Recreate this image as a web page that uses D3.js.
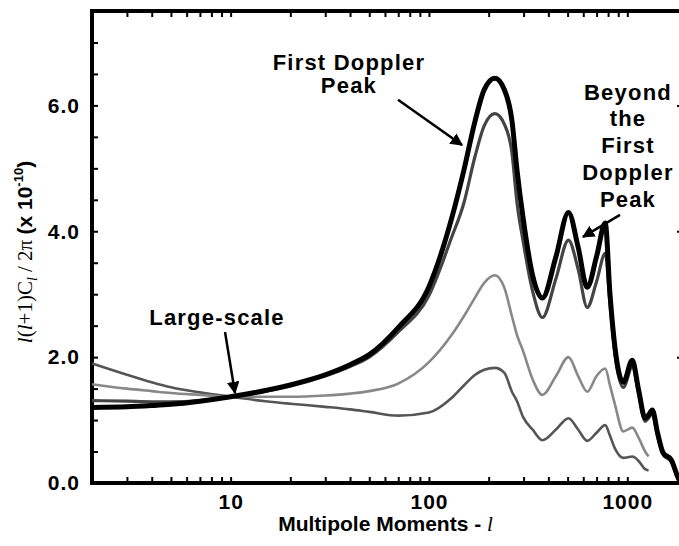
<!DOCTYPE html>
<html>
<head>
<meta charset="utf-8">
<script src="https://cdn.jsdelivr.net/npm/d3@7/dist/d3.min.js"></script>
<style>
  body { margin: 0; background: #fff; overflow: hidden; }
  svg { display: block; }
  .tick line { stroke: #000; stroke-width: 2; }
  .tick text { font-family: "Liberation Sans", Arial, sans-serif; font-weight: bold; font-size: 21px; letter-spacing: 1px; fill: #000; }
  .note { font-family: "Liberation Sans", Arial, sans-serif; font-weight: bold; font-size: 22px; letter-spacing: 1.2px; fill: #000; }
</style>
</head>
<body>
<script>
// multipole moments l (shared grid for all curves)
var multipoles = [2, 3, 4, 5, 7, 10, 15, 20, 30, 40, 50, 70, 100, 130, 150, 171, 190, 215, 240, 262, 278, 298, 333, 373, 437, 505, 565, 628, 700, 774, 818, 866, 955, 1060, 1140, 1230, 1280, 1337, 1420, 1515, 1665, 1828, 1900];

// l(l+1)Cl/2pi (x 1e-10); null = curve not drawn there
var curveA = [1.20, 1.21, 1.23, 1.25, 1.30, 1.37, 1.47, 1.56, 1.72, 1.88, 2.04, 2.47, 3.12, 4.20, 4.97, 5.76, 6.25, 6.43, 6.25, 5.76, 4.97, 4.22, 3.30, 2.94, 3.60, 4.30, 3.75, 3.11, 3.60, 4.13, 3.00, 2.16, 1.60, 1.95, 1.48, 1.03, 1.08, 1.16, 0.80, 0.48, 0.37, 0.05, 0.0];
var curveB = [1.31, 1.30, 1.29, 1.29, 1.31, 1.37, 1.46, 1.54, 1.70, 1.85, 2.00, 2.40, 2.98, 3.90, 4.45, 5.20, 5.68, 5.87, 5.70, 5.25, 4.45, 3.85, 3.05, 2.63, 3.25, 3.86, 3.40, 2.79, 3.20, 3.65, 2.85, 2.05, 1.52, 1.85, 1.42, 0.98, 1.03, 1.10, 0.75, 0.45, 0.34, 0.03, 0.0];
var curveC = [1.57, 1.50, 1.46, 1.43, 1.40, 1.37, 1.37, 1.37, 1.39, 1.42, 1.46, 1.58, 1.92, 2.35, 2.65, 2.95, 3.18, 3.30, 3.10, 2.65, 2.35, 2.10, 1.65, 1.40, 1.70, 2.00, 1.70, 1.45, 1.70, 1.82, 1.55, 1.25, 0.82, 0.88, 0.72, 0.50, 0.42, null, null, null, null, null, null];
var curveD = [1.90, 1.72, 1.60, 1.52, 1.44, 1.37, 1.30, 1.26, 1.21, 1.17, 1.13, 1.07, 1.12, 1.35, 1.55, 1.72, 1.80, 1.83, 1.75, 1.45, 1.30, 1.05, 0.85, 0.68, 0.85, 1.03, 0.85, 0.67, 0.80, 0.92, 0.75, 0.55, 0.40, 0.42, 0.35, 0.22, 0.20, null, null, null, null, null, null];

// tick labels
var xLabels = [10, 100, 1000];
var yLabels = [0, 2, 4, 6];

var svgWidth = 679;
var svgHeight = 546;

var margin = {
  top: 11,
  right: -8,
  bottom: 63,
  left: 92
};

var width = svgWidth - margin.left - margin.right;
var height = svgHeight - margin.top - margin.bottom;

var svg = d3.select("body")
  .append("svg")
  .attr("width", svgWidth)
  .attr("height", svgHeight);

var chartGroup = svg.append("g")
  .attr("transform", `translate(${margin.left}, ${margin.top})`);

var x = d3.scaleLog()
  .domain([2, 2000])
  .range([0, width]);

var y = d3.scaleLinear()
  .domain([0, 7.5])
  .range([height, 0]);

// minor ticks 2..9 in each decade
var xTicks = [];
[1, 10, 100, 1000].forEach(function(dec) {
  d3.range(1, 10).forEach(function(k) {
    var v = k * dec;
    if (v > 2 && v < 2000) xTicks.push(v);
  });
});
var yTicks = d3.range(0.5, 7.5, 0.5).concat([0]);

var bottomAxis = d3.axisBottom(x)
  .tickValues(xTicks)
  .tickSize(-6)
  .tickPadding(11)
  .tickFormat(d => xLabels.includes(d) ? d : "");

var topAxis = d3.axisTop(x)
  .tickValues(xTicks)
  .tickSize(-6)
  .tickFormat("");

var leftAxis = d3.axisLeft(y)
  .tickValues(yTicks)
  .tickSize(-6)
  .tickPadding(12)
  .tickFormat(d => yLabels.includes(d) ? d3.format(".1f")(d) : "");

var rightAxis = d3.axisRight(y)
  .tickValues([2, 4, 6])
  .tickSize(-10)
  .tickFormat("");

chartGroup.append("g").attr("transform", `translate(0, ${height})`).call(bottomAxis);
chartGroup.append("g").call(topAxis);
chartGroup.append("g").call(leftAxis);
chartGroup.append("g").attr("transform", `translate(${width}, 0)`).call(rightAxis);
chartGroup.selectAll(".domain").remove();

// frame
chartGroup.append("rect")
  .attr("width", width)
  .attr("height", height)
  .attr("fill", "none")
  .attr("stroke", "#000")
  .attr("stroke-width", 4);

// curves
var series = [
  { name: "D", values: curveD, color: "#555", w: 2.6 },
  { name: "C", values: curveC, color: "#888", w: 2.6 },
  { name: "B", values: curveB, color: "#444", w: 3.2 },
  { name: "A", values: curveA, color: "#000", w: 5 }
];

var line = d3.line()
  .defined(d => d.v != null)
  .x(d => x(d.l))
  .y(d => y(d.v))
  .curve(d3.curveMonotoneX);

chartGroup.selectAll(".curve")
  .data(series)
  .enter()
  .append("path")
  .attr("class", "curve")
  .attr("fill", "none")
  .attr("stroke", d => d.color)
  .attr("stroke-width", d => d.w)
  .attr("stroke-linejoin", "round")
  .attr("d", d => line(multipoles.map((l, i) => ({ l: l, v: d.values[i] }))));

// arrow marker
svg.append("defs").append("marker")
  .attr("id", "arrow")
  .attr("viewBox", "0 0 10 10")
  .attr("refX", 9)
  .attr("refY", 5)
  .attr("markerWidth", 5)
  .attr("markerHeight", 5)
  .attr("orient", "auto")
  .append("path")
  .attr("d", "M0,0 L10,5 L0,10 z")
  .attr("fill", "#000");

// annotations (in data coordinates)
var notes = [
  { lines: ["First Doppler", "Peak"], l: 39.5, v: 6.56, from: [69.8, 6.09], to: [146.8, 5.37] },
  { lines: ["Beyond", "the", "First", "Doppler", "Peak"], l: 1008, v: 6.09, from: [919, 4.26], to: [598, 3.91] },
  { lines: ["Large-scale"], l: 8.54, v: 2.51, from: [9.37, 2.40], to: [10.52, 1.43] }
];

notes.forEach(function(n) {
  var t = chartGroup.append("text")
    .attr("class", "note")
    .attr("text-anchor", "middle")
    .attr("x", x(n.l))
    .attr("y", y(n.v));
  n.lines.forEach(function(s, i) {
    t.append("tspan")
      .attr("x", x(n.l))
      .attr("dy", i === 0 ? 0 : (n.lines.length > 2 ? 26.7 : 23))
      .text(s);
  });
  chartGroup.append("line")
    .attr("x1", x(n.from[0]))
    .attr("y1", y(n.from[1]))
    .attr("x2", x(n.to[0]))
    .attr("y2", y(n.to[1]))
    .attr("stroke", "#000")
    .attr("stroke-width", 2.5)
    .attr("marker-end", "url(#arrow)");
});

// axis labels
var xTitle = chartGroup.append("text")
  .attr("transform", `translate(${width / 2 - 4}, ${height + 48})`)
  .attr("text-anchor", "middle")
  .style("font-family", "'Liberation Sans', Arial, sans-serif")
  .style("font-weight", "bold")
  .style("font-size", "21px");
xTitle.append("tspan").text("Multipole Moments - ");
xTitle.append("tspan")
  .style("font-family", "'Liberation Serif', serif")
  .style("font-style", "italic")
  .style("font-weight", "normal")
  .text("l");

var yTitle = svg.append("text")
  .attr("transform", "translate(32, 252) rotate(-90)")
  .attr("text-anchor", "middle")
  .style("font-family", "'Liberation Serif', serif")
  .style("font-size", "21px");
yTitle.append("tspan").style("font-style", "italic").text("l");
yTitle.append("tspan").text("(");
yTitle.append("tspan").style("font-style", "italic").text("l");
yTitle.append("tspan").text("+1)C");
yTitle.append("tspan").style("font-style", "italic").style("font-size", "14px").attr("dy", 5).text("l");
yTitle.append("tspan").attr("dy", -5).text(" / 2\u03C0 ");
yTitle.append("tspan")
  .style("font-family", "'Liberation Sans', Arial, sans-serif")
  .style("font-weight", "bold")
  .text("(x 10");
yTitle.append("tspan")
  .style("font-family", "'Liberation Sans', Arial, sans-serif")
  .style("font-weight", "bold")
  .style("font-size", "13px")
  .attr("dy", -9)
  .text("-10");
yTitle.append("tspan")
  .style("font-family", "'Liberation Sans', Arial, sans-serif")
  .style("font-weight", "bold")
  .attr("dy", 9)
  .text(")");
</script>
</body>
</html>
